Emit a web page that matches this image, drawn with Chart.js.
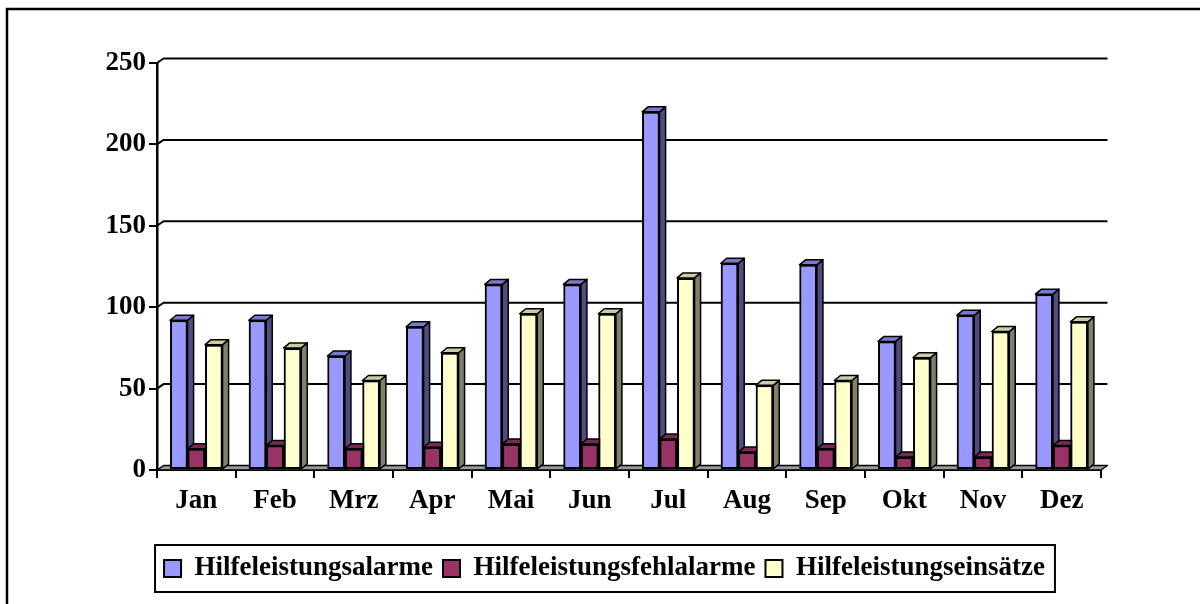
<!DOCTYPE html>
<html>
<head>
<meta charset="utf-8">
<script src="https://cdn.jsdelivr.net/npm/chart.js@4"></script>
<style>
  html, body { margin: 0; padding: 0; background: #fff; overflow: hidden; }
</style>
</head>
<body>
<canvas id="hlChart" width="1200" height="604" style="width:1200px;height:604px;display:block"></canvas>
<script>
const months = ['Jan', 'Feb', 'Mrz', 'Apr', 'Mai', 'Jun', 'Jul', 'Aug', 'Sep', 'Okt', 'Nov', 'Dez'];
const alarme = [92, 92, 70, 88, 114, 114, 220, 127, 126, 79, 95, 108];
const fehlalarme = [13, 15, 13, 14, 16, 16, 19, 11, 13, 8, 8, 15];
const einsaetze = [77, 75, 55, 72, 96, 96, 118, 52, 55, 69, 85, 91];
const yTicks = [0, 50, 100, 150, 200, 250];

const labelFont = { family: 'Liberation Serif', size: 27, weight: 'bold' };

// colour of front, top and side face
const faces = [
  ['#9999ff', '#7a7acc', '#4d4d80'],
  ['#993366', '#7a2952', '#4d1a33'],
  ['#ffffcc', '#cccca3', '#80806a'],
];

const GX = 6.5, GY = 4.5;   // depth of back wall / floor
const BX = 6, BY = 5;       // depth of the columns

const depth3d = {
  id: 'depth3d',
  beforeDatasetsDraw(chart) {
    const { ctx, chartArea: a, scales: { y } } = chart;
    ctx.save();
    ctx.strokeStyle = '#000';
    ctx.lineWidth = 2;
    ctx.lineJoin = 'round';
    yTicks.forEach(v => {
      if (v === 0) return;
      const py = y.getPixelForValue(v);
      ctx.beginPath();
      ctx.moveTo(a.left, py);
      ctx.lineTo(a.left + GX, py - GY);
      ctx.lineTo(a.right + GX, py - GY);
      ctx.stroke();
    });
    // floor
    const fy = y.getPixelForValue(0);
    ctx.beginPath();
    ctx.moveTo(a.left, fy);
    ctx.lineTo(a.right, fy);
    ctx.lineTo(a.right + GX, fy - GY);
    ctx.lineTo(a.left + GX, fy - GY);
    ctx.closePath();
    ctx.fillStyle = '#999999';
    ctx.fill();
    ctx.lineWidth = 1.5;
    ctx.stroke();
    ctx.restore();
  },
  afterDatasetsDraw(chart) {
    const ctx = chart.ctx;
    chart.data.datasets.forEach((ds, i) => {
      const meta = chart.getDatasetMeta(i);
      meta.data.forEach(bar => {
        const { x, y, base, width } = bar.getProps(['x', 'y', 'base', 'width'], true);
        bar.draw(ctx);
        const l = x - width / 2, r = x + width / 2;
        ctx.save();
        ctx.strokeStyle = '#000';
        ctx.lineWidth = 1.5;
        ctx.lineJoin = 'round';
        // side
        ctx.beginPath();
        ctx.moveTo(r, y);
        ctx.lineTo(r + BX, y - BY);
        ctx.lineTo(r + BX, base - BY);
        ctx.lineTo(r, base);
        ctx.closePath();
        ctx.fillStyle = faces[i][2];
        ctx.fill();
        ctx.stroke();
        // top
        ctx.beginPath();
        ctx.moveTo(l, y);
        ctx.lineTo(l + BX, y - BY);
        ctx.lineTo(r + BX, y - BY);
        ctx.lineTo(r, y);
        ctx.closePath();
        ctx.fillStyle = faces[i][1];
        ctx.fill();
        ctx.stroke();
        ctx.restore();
      });
    });
  },
  afterDraw(chart) {
    const { ctx, legend } = chart;
    ctx.save();
    ctx.strokeStyle = '#000';
    // legend frame
    const boxes = legend.legendHitBoxes;
    const l = Math.min(...boxes.map(b => b.left)) - 9;
    const r = Math.max(...boxes.map(b => b.left + b.width)) + 10;
    ctx.lineWidth = 2;
    ctx.strokeRect(l, legend.top, r - l, legend.height);
    // outer frame, only top and left are visible
    ctx.lineWidth = 2.5;
    ctx.beginPath();
    ctx.moveTo(7, 610);
    ctx.lineTo(7, 9);
    ctx.lineTo(1205, 9);
    ctx.stroke();
    ctx.restore();
  }
};

new Chart(document.getElementById('hlChart'), {
  type: 'bar',
  data: {
    labels: months,
    datasets: [
      { label: 'Hilfeleistungsalarme', data: alarme, backgroundColor: faces[0][0] },
      { label: 'Hilfeleistungsfehlalarme', data: fehlalarme, backgroundColor: faces[1][0] },
      { label: 'Hilfeleistungseinsätze', data: einsaetze, backgroundColor: faces[2][0] },
    ].map(d => ({ ...d, borderColor: '#000', borderWidth: 2, borderSkipped: false })),
  },
  options: {
    responsive: false,
    animation: false,
    devicePixelRatio: 1,
    categoryPercentage: 0.667,
    barPercentage: 1,
    layout: { padding: { left: 12, right: 3, top: 63, bottom: 12 } },
    plugins: {
      tooltip: { enabled: false },
      legend: {
        position: 'bottom',
        labels: {
          color: '#000',
          font: labelFont,
          boxWidth: 17,
          boxHeight: 17,
          padding: 10,
        },
      },
    },
    scales: {
      x: {
        grid: { offset: true, drawOnChartArea: false, tickLength: 8, color: '#000', lineWidth: 2 },
        border: { color: '#000', width: 2 },
        ticks: { color: '#000', font: labelFont, padding: 7 },
        afterFit(s) { s.height = 75; },
      },
      y: {
        min: 0,
        max: 250,
        grid: { drawOnChartArea: false, tickLength: 8, color: '#000', lineWidth: 2 },
        border: { color: '#000', width: 2.5 },
        ticks: { stepSize: 50, color: '#000', font: labelFont, padding: 3 },
        afterFit(s) { s.width = 145; },
      },
      y2: {
        position: 'right',
        grid: { display: false },
        border: { display: false },
        ticks: { display: false },
        afterFit(s) { s.width = 96; },
      },
    },
  },
  plugins: [depth3d],
});
</script>
</body>
</html>
